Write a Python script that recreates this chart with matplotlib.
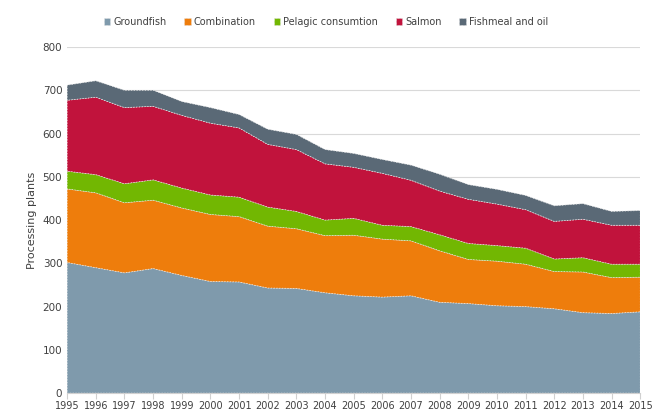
import matplotlib.pyplot as plt
import numpy as np

# Processing plants by type, 1995-2015 (per layer)
years = list(range(1995, 2016))
groundfish = [302, 290, 278, 288, 272, 258, 257, 243, 242, 232, 225, 222, 225, 210, 207, 202, 200, 195, 186, 184, 188]
combination_top = [472, 463, 440, 446, 428, 413, 408, 386, 380, 364, 365, 356, 352, 329, 309, 305, 298, 281, 280, 267, 268]
pelagic_top = [513, 505, 484, 493, 474, 458, 453, 430, 420, 400, 404, 388, 385, 366, 346, 341, 335, 310, 313, 298, 298]
salmon_top = [677, 684, 660, 663, 642, 624, 613, 575, 563, 530, 522, 508, 492, 467, 448, 437, 424, 397, 402, 388, 388]
total = [712, 722, 700, 700, 674, 660, 644, 610, 598, 563, 554, 540, 527, 506, 482, 471, 457, 433, 438, 420, 422]

combination = list(np.array(combination_top) - np.array(groundfish))
pelagic = list(np.array(pelagic_top) - np.array(combination_top))
salmon = list(np.array(salmon_top) - np.array(pelagic_top))
fishmeal = list(np.array(total) - np.array(salmon_top))

labels = ["Groundfish", "Combination", "Pelagic consumtion", "Salmon", "Fishmeal and oil"]
colors = ["#7f9aac", "#ee7d0c", "#72b702", "#c1133c", "#5a6976"]

fig = plt.figure(figsize=(6.52, 4.2), dpi=100)
ax = fig.add_axes([0.103, 0.064, 0.879, 0.824])

polys = ax.stackplot(years, groundfish, combination, pelagic, salmon, fishmeal,
                     colors=colors, labels=labels, linewidth=0.5, edgecolor="#e8e8e8")
for p in polys:
    p.set_linestyle((0, (2, 2)))

ax.set_xlim(1995, 2015)
ax.set_ylim(0, 800)
ax.set_yticks(range(0, 801, 100))
ax.set_xticks(years)
ax.set_xticklabels([str(y) for y in years], fontsize=7, color="#404040")
ax.tick_params(axis="y", length=0, labelsize=7.5, labelcolor="#404040")
ax.tick_params(axis="x", length=4, color="#d0d0d0", pad=2)
ax.grid(axis="y", color="#d9d9d9", linewidth=0.8)
ax.set_axisbelow(True)
for side in ["top", "right", "left"]:
    ax.spines[side].set_visible(False)
ax.spines["bottom"].set_color("#d0d0d0")
ax.set_ylabel("Processing plants", fontsize=8, color="#404040", labelpad=4)

handles, labs = ax.get_legend_handles_labels()
fig.legend(handles, labs, loc="upper center", bbox_to_anchor=(0.50, 0.98), ncol=5,
           frameon=False, fontsize=7, handlelength=0.7, handleheight=0.7,
           columnspacing=1.8, handletextpad=0.3, labelcolor="#404040")

fig.savefig("out.png", dpi=100)
